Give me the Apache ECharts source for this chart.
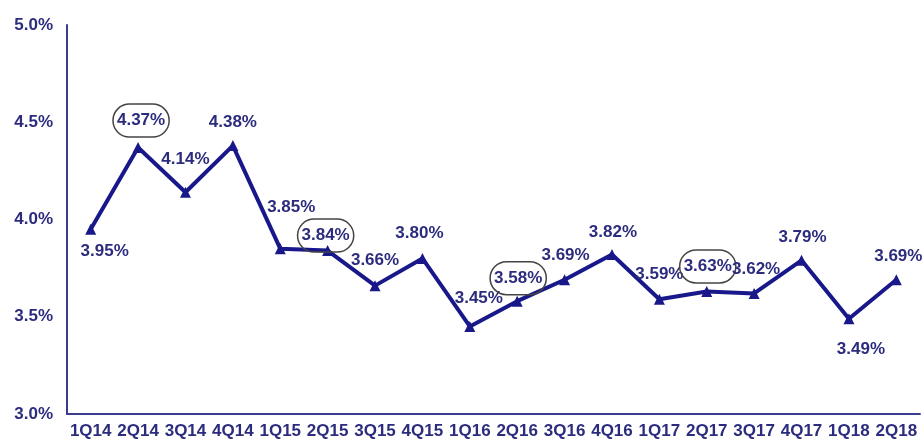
<!DOCTYPE html>
<html>
<head>
<meta charset="utf-8">
<script src="https://cdn.jsdelivr.net/npm/echarts@6/dist/echarts.min.js"></script>
<style>
    html, body { margin: 0; padding: 0; background: #fff; }
    #chart { width: 924px; height: 446px; }
</style>
</head>
<body>
<div id="chart"></div>
<script>
    // 数据
    var xData = ['1Q14','2Q14','3Q14','4Q14','1Q15','2Q15','3Q15','4Q15','1Q16',
                 '2Q16','3Q16','4Q16','1Q17','2Q17','3Q17','4Q17','1Q18','2Q18']
    var yData = [3.95, 4.37, 4.14, 4.38, 3.85, 3.84, 3.66, 3.80, 3.45,
                 3.58, 3.69, 3.82, 3.59, 3.63, 3.62, 3.79, 3.49, 3.69]
    // 标签位置 [position, dx, dy, circled]
    var labelPos = [
        ['bottom', 14, 3], ['top', 3, 0, true], ['top', 0, -14], ['top', 0, -4],
        ['top', 11, -22], ['top', -2, 12, true], ['top', 0, -6], ['top', -3, -6],
        ['top', 9, -9], ['top', 1, 4, true], ['top', 1, -5], ['top', 1, -3],
        ['top', 0, -6], ['top', 1, 2, true], ['top', 2, -5], ['top', 1, -4],
        ['bottom', 12, 12], ['top', 2, -4]
    ]

    var navy = '#18188a'
    var textColor = '#2c2c7e'
    var font = 'Liberation Sans, Arial, sans-serif'

    var seriesData = yData.map(function (v, i) {
        var p = labelPos[i]
        var label = { position: p[0], offset: [p[1], p[2]] }
        if (p[3]) {
            label.borderColor = '#444'
            label.borderWidth = 1.5
            label.borderRadius = 17
            label.padding = [8, 4]
        }
        return { value: v, label: label }
    })

    var myChart = echarts.init(document.getElementById('chart'))
    var option = {
        animation: false,
        grid: { left: 67, right: 4, top: 25, bottom: 32, containLabel: false },
        xAxis: {
            type: 'category',
            data: xData,
            boundaryGap: true,
            axisLine: { lineStyle: { color: '#3c3c8c', width: 2 } },
            axisTick: { show: false },
            axisLabel: {
                color: textColor, fontWeight: 'bold', fontSize: 17,
                fontFamily: font, margin: 9, interval: 0
            }
        },
        yAxis: {
            type: 'value',
            min: 3.0, max: 5.0, interval: 0.5,
            axisLine: { show: true, lineStyle: { color: '#3c3c8c', width: 2 } },
            axisTick: { show: false },
            splitLine: { show: false },
            axisLabel: {
                color: textColor, fontWeight: 'bold', fontSize: 17,
                fontFamily: font, margin: 14,
                formatter: function (v) { return v.toFixed(1) + '%' }
            }
        },
        series: [{
            type: 'line',
            data: seriesData,
            symbol: 'triangle',
            symbolSize: 11,
            lineStyle: { color: navy, width: 4 },
            itemStyle: { color: navy },
            label: {
                show: true,
                color: textColor, fontWeight: 'bold', fontSize: 17,
                fontFamily: font,
                formatter: function (p) { return p.value.toFixed(2) + '%' }
            }
        }]
    }
    myChart.setOption(option)
</script>
</body>
</html>
